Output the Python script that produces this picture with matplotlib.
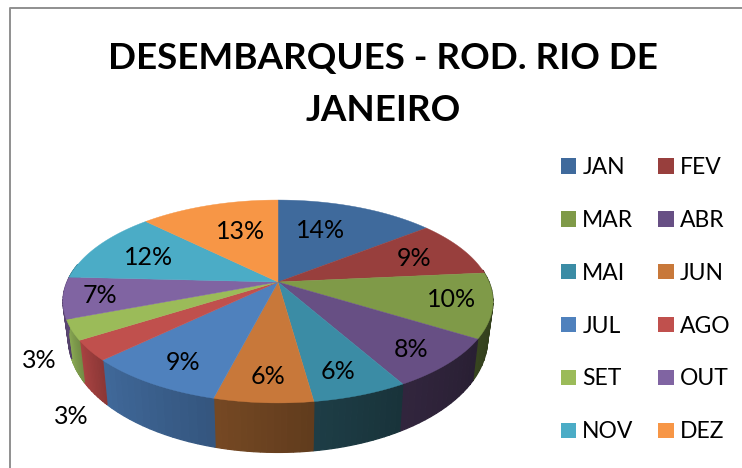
import numpy as np
import matplotlib
matplotlib.use('Agg')
import matplotlib.pyplot as plt
from matplotlib.patches import Patch

plt.rcParams['font.family'] = ['Lato', 'DejaVu Sans']

# Data (slice sizes, labels show them rounded)
months = ['JAN', 'FEV', 'MAR', 'ABR', 'MAI', 'JUN', 'JUL', 'AGO', 'SET', 'OUT', 'NOV', 'DEZ']
percent = [14.4, 9.1, 10.3, 8.0, 6.0, 6.2, 8.8, 3.2, 3.2, 6.6, 11.6, 12.6]
title = 'DESEMBARQUES - ROD. RIO DE\nJANEIRO'

# Colours
top_colors = ['#3f6a9c', '#983f3d', '#7f9a48', '#674f84', '#3b8ca5', '#c8783a',
              '#4f81bd', '#c0504d', '#9bbb59', '#8064a2', '#4bacc6', '#f79646']
side_colors = ['#2c4a6e', '#6a2c2a', '#323e1c', '#2d2238', '#1b3840', '#6b4220',
               '#3a5f8c', '#9a3d3c', '#7f9c4d', '#5a4672', '#35788a', '#ad6931']

# Label offsets from the default spot inside each slice (pixels)
label_shift = [(-11, 0), (14, -1), (36, 3), (29, 17), (10, 21), (-1, 22),
               (-18, 19), (-90, 92), (-109, 48), (-40, 3), (-10, 0), (10, 2)]

# Pie projection, in pixels
cx, cy = 278, 282
bx, ay, k = 211, 97.7, 0.192
base_sx, base_sy, base_dy = 0.975, 1.12, 35


def project(theta, r=1.0):
    # Perspective view of the top disc, theta clockwise from 12 o'clock
    u, v = r * np.sin(theta), r * np.cos(theta)
    w = 1 + k * v
    return cx + bx * u / w, cy - ay * v / w


def to_base(x, y):
    return cx + (x - cx) * base_sx, cy + (y - cy) * base_sy + base_dy


def shade(color, amount):
    rgb = np.array(matplotlib.colors.to_rgb(color))
    return tuple(np.clip(rgb * amount, 0, 1))


fig = plt.figure(figsize=(7.42, 4.68), dpi=100)
ax = fig.add_axes([0, 0, 1, 1])
ax.set_xlim(0, 742)
ax.set_ylim(468, 0)
ax.axis('off')

# Chart frame, only left and top are in the crop
ax.plot([9.5, 9.5, 742], [468, 7.5, 7.5], color='#8f8f8f', lw=1.4, zorder=1)

edges = np.cumsum([0] + percent) / sum(percent) * 2 * np.pi

# Side wall, front half only, in thin strips for the gradient
for i in range(len(percent)):
    a0, a1 = edges[i], edges[i + 1]
    lo, hi = max(a0, np.pi * 0.46), min(a1, np.pi * 1.56)
    if hi <= lo:
        continue
    steps = np.linspace(lo, hi, 16)
    for j in range(len(steps) - 1):
        t = np.linspace(steps[j], steps[j + 1], 4)
        xt, yt = project(t)
        xb, yb = to_base(xt, yt)
        frac = (j + 0.5) / (len(steps) - 1)
        c = shade(side_colors[i], 0.9 + 0.2 * frac)
        ax.fill(np.r_[xt, xb[::-1]], np.r_[yt, yb[::-1]], color=c, lw=0.9, zorder=2)

# Top slices
for i in range(len(percent)):
    t = np.linspace(edges[i], edges[i + 1], 80)
    x, y = project(t)
    ax.fill(np.r_[cx, x], np.r_[cy, y], color=top_colors[i], lw=0.3, zorder=3)

# Percent labels
for i, p in enumerate(percent):
    mid = (edges[i] + edges[i + 1]) / 2
    x, y = project(mid, 0.65)
    ax.text(x + label_shift[i][0], y + label_shift[i][1], f'{p:.0f}%', fontsize=18,
            ha='center', va='center', color='black', zorder=4)

# Title
ax.text(383, 84.5, title, fontsize=26.5, fontweight='bold', ha='center', va='center',
        linespacing=1.72, color='black')

# Legend
handles = [Patch(facecolor=c, edgecolor='none') for c in top_colors]
order = list(range(0, 12, 2)) + list(range(1, 12, 2))
ax.legend([handles[i] for i in order], [months[i] for i in order], ncol=2,
          loc='upper left', bbox_to_anchor=(561 / 742, 1 - 157 / 468), frameon=False,
          fontsize=16.5, handlelength=0.66, handleheight=0.66, handletextpad=0.27,
          columnspacing=1.08, labelspacing=1.39, borderpad=0, borderaxespad=0)

fig.savefig('out.png', dpi=100)
